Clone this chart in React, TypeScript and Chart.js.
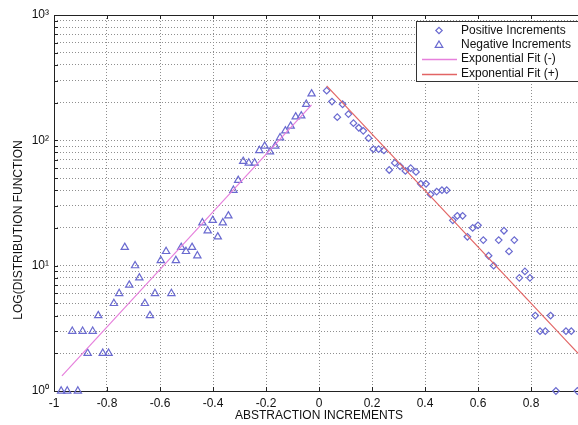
import React, { useEffect, useRef } from 'react';
import { Chart, registerables } from 'chart.js';

Chart.register(...registerables);

// Negative increments (triangles)
const negX = [-0.973, -0.95, -0.91, -0.931, -0.892, -0.854, -0.873, -0.816, -0.794, -0.833, -0.774, -0.754, -0.716, -0.733, -0.694, -0.678, -0.657, -0.638, -0.619, -0.597, -0.577, -0.557, -0.54, -0.52, -0.502, -0.479, -0.459, -0.44, -0.42, -0.401, -0.382, -0.363, -0.342, -0.323, -0.305, -0.286, -0.265, -0.243, -0.225, -0.205, -0.185, -0.165, -0.147, -0.127, -0.107, -0.088, -0.067, -0.048, -0.028];
const negY = [1, 1, 1, 3, 3, 3, 2, 2, 2, 4, 5, 6, 7, 14, 10, 8, 5, 4, 6, 11, 13, 6, 11, 14, 13, 14, 12, 22, 19, 23, 17, 22, 25, 40, 48, 68, 66, 66, 83, 90, 81, 90, 105, 119, 130, 154, 157, 194, 235];

// Positive increments (diamonds)
const posX = [0.029, 0.049, 0.069, 0.089, 0.111, 0.13, 0.15, 0.167, 0.187, 0.205, 0.225, 0.245, 0.265, 0.286, 0.306, 0.326, 0.346, 0.366, 0.384, 0.404, 0.421, 0.444, 0.464, 0.482, 0.505, 0.522, 0.542, 0.56, 0.58, 0.6, 0.62, 0.64, 0.659, 0.678, 0.698, 0.717, 0.737, 0.756, 0.777, 0.796, 0.816, 0.834, 0.854, 0.874, 0.894, 0.932, 0.952, 0.975];
const posY = [249, 204, 153, 194, 162, 137, 126, 119, 104, 85, 85, 83, 58, 66, 62, 57, 60, 56, 45, 45, 37, 39, 40, 40, 23, 25, 25, 17, 20, 21, 16, 12, 10, 16, 19, 13, 16, 8, 9, 8, 4, 3, 3, 4, 1, 3, 3, 1];

// Exponential fits (end points)
const fitNegX = [-0.97, -0.028];
const fitNegY = [1.32, 192];
const fitPosX = [0.029, 1.0];
const fitPosY = [272, 1.78];

const xTicks = [-1, -0.8, -0.6, -0.4, -0.2, 0, 0.2, 0.4, 0.6, 0.8, 1];
const xTickLabels = ['-1', '-0.8', '-0.6', '-0.4', '-0.2', '0', '0.2', '0.4', '0.6', '0.8', '1'];
const yTicks = [1, 2, 3, 4, 5, 6, 7, 8, 9, 10, 20, 30, 40, 50, 60, 70, 80, 90, 100, 200, 300, 400, 500, 600, 700, 800, 900, 1000];
const yMajor = [1, 10, 100, 1000];
const yTickLabels = ['10⁰', '10¹', '10²', '10³'];

const seriesLabels = ['Positive Increments', 'Negative Increments', 'Exponential Fit (-)', 'Exponential Fit (+)'];
const xTitle = 'ABSTRACTION INCREMENTS';
const yTitle = 'LOG(DISTRIBUTION FUNCTION';

const FONT = '"Liberation Sans", Arial, Helvetica, sans-serif';
const MARK = '#6a6ad0';
const PINK = '#e680dc';
const RED = '#e26464';
const TEXT = '#111';
const GRID = '#8f8f8f';

function drawDiamond(ctx: CanvasRenderingContext2D, x: number, y: number, r: number) {
  ctx.beginPath();
  ctx.moveTo(x, y - r);
  ctx.lineTo(x + r, y);
  ctx.lineTo(x, y + r);
  ctx.lineTo(x - r, y);
  ctx.closePath();
  ctx.stroke();
}

function drawTriangle(ctx: CanvasRenderingContext2D, x: number, y: number, r: number) {
  ctx.beginPath();
  ctx.moveTo(x, y - r);
  ctx.lineTo(x + r * 0.95, y + r * 0.6);
  ctx.lineTo(x - r * 0.95, y + r * 0.6);
  ctx.closePath();
  ctx.stroke();
}

const framePlugin = {
  id: 'matlabFrame',
  beforeDatasetsDraw(chart: any) {
    const { ctx, chartArea: a, scales } = chart;
    ctx.save();
    ctx.strokeStyle = '#222';
    ctx.lineWidth = 1;
    ctx.strokeRect(a.left + 0.5, a.top + 0.5, a.right - a.left, a.bottom - a.top);
    ctx.beginPath();
    scales.x.ticks.forEach((t: any) => {
      const px = Math.round(scales.x.getPixelForValue(t.value)) + 0.5;
      ctx.moveTo(px, a.bottom);
      ctx.lineTo(px, a.bottom - 4);
      ctx.moveTo(px, a.top);
      ctx.lineTo(px, a.top + 4);
    });
    scales.y.ticks.forEach((t: any) => {
      const py = Math.round(scales.y.getPixelForValue(t.value)) + 0.5;
      ctx.moveTo(a.left, py);
      ctx.lineTo(a.left + 4, py);
    });
    ctx.stroke();
    ctx.restore();
  },
  afterDraw(chart: any) {
    const { ctx, chartArea: a } = chart;
    ctx.save();
    // y title
    ctx.font = `12px ${FONT}`;
    ctx.fillStyle = TEXT;
    ctx.translate(19, (a.top + a.bottom) / 2 + 27);
    ctx.rotate(-Math.PI / 2);
    ctx.textAlign = 'center';
    ctx.textBaseline = 'middle';
    ctx.fillText(yTitle, 0, 0);
    ctx.restore();

    // legend
    ctx.save();
    const lx = a.left + 362;
    const ly = a.top + 6;
    ctx.fillStyle = '#fff';
    ctx.fillRect(lx + 0.5, ly + 0.5, 220, 60);
    ctx.strokeStyle = '#333';
    ctx.lineWidth = 1;
    ctx.strokeRect(lx + 0.5, ly + 0.5, 220, 60);
    const rows = [ly + 9.5, ly + 23.5, ly + 38, ly + 52.5];
    ctx.font = `12px ${FONT}`;
    ctx.textAlign = 'left';
    ctx.textBaseline = 'middle';
    seriesLabels.forEach((lab, i) => {
      ctx.fillStyle = TEXT;
      ctx.fillText(lab, lx + 45, rows[i]);
    });
    ctx.lineWidth = 1.2;
    ctx.strokeStyle = MARK;
    drawDiamond(ctx, lx + 23, rows[0], 3.2);
    drawTriangle(ctx, lx + 23, rows[1] + 0.5, 4);
    ctx.lineWidth = 1.3;
    ctx.beginPath();
    ctx.strokeStyle = PINK;
    ctx.moveTo(lx + 6, Math.round(rows[2]) + 0.5);
    ctx.lineTo(lx + 41, Math.round(rows[2]) + 0.5);
    ctx.stroke();
    ctx.beginPath();
    ctx.strokeStyle = RED;
    ctx.moveTo(lx + 6, Math.round(rows[3]) + 0.5);
    ctx.lineTo(lx + 41, Math.round(rows[3]) + 0.5);
    ctx.stroke();
    ctx.restore();
  },
};

export default function App() {
  const ref = useRef<HTMLCanvasElement>(null);

  useEffect(() => {
    Chart.defaults.font.family = FONT;
    Chart.defaults.color = TEXT;
    const chart = new Chart(ref.current as HTMLCanvasElement, {
      type: 'scatter',
      data: {
        datasets: [
          {
            label: seriesLabels[2],
            data: fitNegX.map((x, i) => ({ x, y: fitNegY[i] })),
            showLine: true,
            pointRadius: 0,
            borderColor: PINK,
            borderWidth: 1.2,
            clip: false,
          } as any,
          {
            label: seriesLabels[3],
            data: fitPosX.map((x, i) => ({ x, y: fitPosY[i] })),
            showLine: true,
            pointRadius: 0,
            borderColor: RED,
            borderWidth: 1.2,
            clip: false,
          } as any,
          {
            label: seriesLabels[0],
            data: posX.map((x, i) => ({ x, y: posY[i] })),
            pointStyle: 'rectRot',
            pointRadius: 3.3,
            borderColor: MARK,
            backgroundColor: 'rgba(0,0,0,0)',
            pointBorderWidth: 1.2,
            clip: false,
          } as any,
          {
            label: seriesLabels[1],
            data: negX.map((x, i) => ({ x, y: negY[i] })),
            pointStyle: 'triangle',
            pointRadius: 4.2,
            borderColor: MARK,
            backgroundColor: 'rgba(0,0,0,0)',
            pointBorderWidth: 1.2,
            clip: false,
          } as any,
        ],
      },
      options: {
        animation: false,
        responsive: false,
        devicePixelRatio: 1,
        layout: { padding: { top: 15, right: 16, left: 0, bottom: 0 } },
        plugins: { legend: { display: false }, tooltip: { enabled: false } },
        scales: {
          x: {
            type: 'linear',
            min: -1,
            max: 1,
            afterBuildTicks: (s: any) => {
              s.ticks = xTicks.map((v) => ({ value: v }));
            },
            afterFit: (s: any) => {
              s.height = 34;
            },
            ticks: {
              autoSkip: false,
              maxRotation: 0,
              padding: 5,
              color: TEXT,
              font: { size: 12 },
              callback: (v: any) => {
                const i = xTicks.findIndex((t) => Math.abs(t - Number(v)) < 1e-9);
                return i >= 0 ? xTickLabels[i] : '';
              },
            },
            grid: { color: GRID, drawTicks: false, lineWidth: 1 },
            border: { display: false, dash: [1, 2] },
            title: {
              display: true,
              text: xTitle,
              color: TEXT,
              font: { size: 12 },
              padding: { top: 0, bottom: 2 },
            },
          },
          y: {
            type: 'logarithmic',
            min: 1,
            max: 1000,
            afterBuildTicks: (s: any) => {
              s.ticks = yTicks.map((v) => ({ value: v, major: false }));
            },
            afterFit: (s: any) => {
              s.width = 54;
            },
            ticks: {
              autoSkip: false,
              padding: 5,
              color: TEXT,
              font: { size: 12 },
              callback: (v: any) => {
                const i = yMajor.indexOf(Number(v));
                return i >= 0 ? yTickLabels[i] : '';
              },
            },
            grid: { color: GRID, drawTicks: false, lineWidth: 1 },
            border: { display: false, dash: [1, 2] },
          },
        },
      } as any,
      plugins: [framePlugin as any],
    });
    return () => chart.destroy();
  }, []);

  return (
    <div
      style={{
        position: 'fixed',
        left: 0,
        top: 0,
        width: 578,
        height: 425,
        overflow: 'hidden',
        background: '#fff',
      }}
    >
      <canvas ref={ref} width={600} height={425} style={{ display: 'block' }} />
    </div>
  );
}
